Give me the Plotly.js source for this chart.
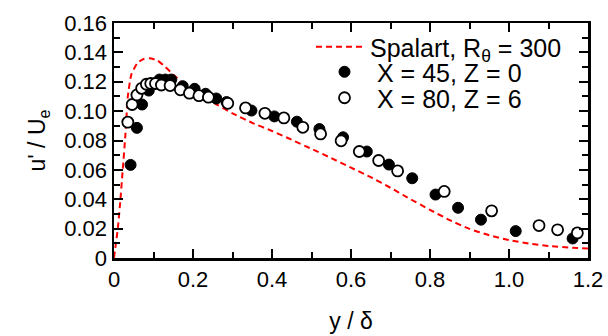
<!DOCTYPE html>
<html><head><meta charset="utf-8">
<script src="https://cdn.plot.ly/plotly-3.0.1.min.js"></script>
<style>html,body{margin:0;padding:0;background:#fff}#chart{width:608px;height:336px}</style>
</head><body><div id="chart"></div>
<script>
// Spalart DNS profile, R_theta = 300
const spalartX = [0, 0.01, 0.016, 0.022, 0.029, 0.035, 0.044, 0.06, 0.075, 0.09, 0.11, 0.13, 0.16, 0.19, 0.22, 0.26, 0.3, 0.35, 0.4, 0.45, 0.5, 0.55, 0.6, 0.65, 0.7, 0.74, 0.8, 0.85, 0.9, 0.95, 1.0, 1.05, 1.1, 1.16, 1.2];
const spalartY = [0, 0.021, 0.039, 0.0596, 0.0845, 0.11, 0.125, 0.133, 0.1355, 0.136, 0.1345, 0.130, 0.1225, 0.1155, 0.1105, 0.1045, 0.0985, 0.092, 0.0865, 0.0805, 0.0743, 0.068, 0.0615, 0.055, 0.0478, 0.0416, 0.0328, 0.0258, 0.0198, 0.0155, 0.0122, 0.0098, 0.0082, 0.0070, 0.0064];
// X = 45, Z = 0 (filled)
const x45X = [0.042, 0.058, 0.071, 0.088, 0.115, 0.130, 0.145, 0.174, 0.204, 0.232, 0.259, 0.285, 0.348, 0.406, 0.463, 0.520, 0.580, 0.640, 0.696, 0.755, 0.814, 0.871, 0.929, 1.017, 1.161];
const x45Y = [0.0634, 0.0886, 0.1045, 0.114, 0.1215, 0.1215, 0.1215, 0.117, 0.1152, 0.1118, 0.1086, 0.1062, 0.1004, 0.0964, 0.0928, 0.0878, 0.0822, 0.0725, 0.0636, 0.0543, 0.0432, 0.0342, 0.0261, 0.0183, 0.0133];
// X = 80, Z = 6 (open)
const x80X = [0.035, 0.046, 0.058, 0.070, 0.082, 0.093, 0.105, 0.120, 0.142, 0.168, 0.191, 0.215, 0.239, 0.288, 0.333, 0.382, 0.430, 0.478, 0.523, 0.575, 0.621, 0.670, 0.718, 0.836, 0.956, 1.076, 1.123, 1.173];
const x80Y = [0.0925, 0.1045, 0.111, 0.1155, 0.1183, 0.1188, 0.1188, 0.1178, 0.1174, 0.1145, 0.1122, 0.1105, 0.1095, 0.1053, 0.1022, 0.0985, 0.0954, 0.089, 0.0845, 0.0798, 0.0725, 0.0664, 0.0593, 0.0453, 0.0321, 0.0221, 0.0192, 0.0171];
const xTickVals = [0, 0.2, 0.4, 0.6, 0.8, 1.0, 1.2];
const xTickText = ['0', '0.2', '0.4', '0.6', '0.8', '1.0', '1.2'];
const yTickVals = [0, 0.02, 0.04, 0.06, 0.08, 0.10, 0.12, 0.14, 0.16];
const yTickText = ['0', '0.02', '0.04', '0.06', '0.08', '0.10', '0.12', '0.14', '0.16'];

const FONT = 'Liberation Sans, Arial, sans-serif';
const LFONT = {family: FONT, size: 25, color: '#000'};
const traces = [
  {x: spalartX, y: spalartY, mode: 'lines', name: 'Spalart, R<sub>θ</sub> = 300', legend: 'legend',
   line: {color: '#ff0000', width: 2, dash: '6px,4px', shape: 'spline', smoothing: 0.5}},
  {x: x45X, y: x45Y, mode: 'markers', name: 'X = 45, Z = 0', legend: 'legend2',
   marker: {symbol: 'circle', size: 11, color: '#000', line: {color: '#000', width: 1}}},
  {x: x80X, y: x80Y, mode: 'markers', name: 'X = 80, Z = 6', legend: 'legend3',
   marker: {symbol: 'circle', size: 11, color: '#fff', line: {color: '#000', width: 1.8}}}
];
const PL = 114, PW = 474, PB = 258, PH = 235;
function leg(xpx, ypx, w) {
  return {x: (xpx - PL) / PW, y: (PB - ypx) / PH, xref: 'paper', yref: 'paper',
    xanchor: 'left', yanchor: 'middle', bgcolor: 'rgba(0,0,0,0)', borderwidth: 0,
    font: LFONT, itemwidth: w};
}
const axisCommon = {
  showline: true, linecolor: '#000', linewidth: 2.5, mirror: 'allticks',
  ticks: 'inside', tickcolor: '#000', tickwidth: 2, ticklen: 9, tickangle: 0,
  showgrid: false, zeroline: false, automargin: false,
  tickfont: {family: FONT, size: 22, color: '#000'}
};
const layout = {
  width: 608, height: 336,
  margin: {l: 114, r: 20, t: 23, b: 78, autoexpand: false},
  paper_bgcolor: '#fff', plot_bgcolor: '#fff',
  font: {family: FONT, size: 22, color: '#000'},
  showlegend: true,
  legend: leg(311, 47, 49),
  legend2: leg(312, 72, 55),
  legend3: leg(312, 98, 55),
  xaxis: Object.assign({}, axisCommon, {range: [0, 1.2], tickvals: xTickVals, ticktext: xTickText,
    minor: {dtick: 0.1, ticks: 'inside', ticklen: 6, tickwidth: 2, tickcolor: '#000'},
    title: {text: 'y / δ', font: {family: FONT, size: 23, color: '#000'}, standoff: 22}}),
  yaxis: Object.assign({}, axisCommon, {range: [0, 0.16], tickvals: yTickVals, ticktext: yTickText,
    minor: {dtick: 0.01, ticks: 'inside', ticklen: 6, tickwidth: 2, tickcolor: '#000'},
    title: {text: "u' / U<sub>e</sub>", font: {family: FONT, size: 23, color: '#000'}, standoff: 12}})
};
Plotly.newPlot('chart', traces, layout, {displayModeBar: false, staticPlot: true});
</script></body></html>
